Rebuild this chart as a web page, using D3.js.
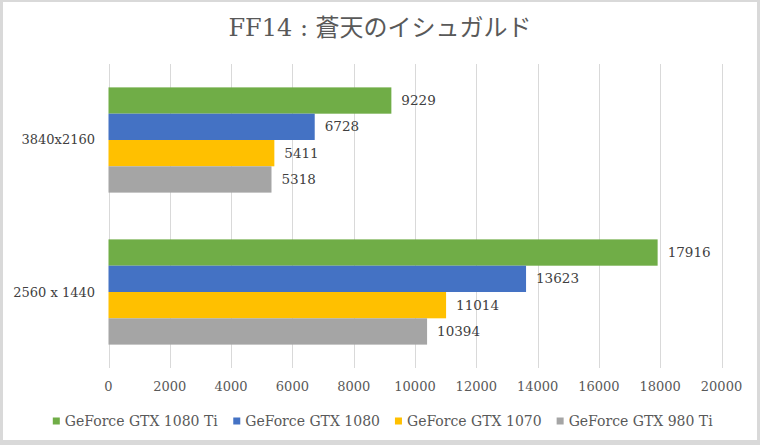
<!DOCTYPE html>
<html><head><meta charset="utf-8">
<script src="https://cdn.jsdelivr.net/npm/d3@7"></script>
<style>
html,body{margin:0;padding:0;background:#fff;}
svg{display:block;}
</style></head>
<body><svg id="c" width="760" height="445"></svg>
<script>
const title = "FF14 : 蒼天のイシュガルド";
const categories = ["3840x2160", "2560 x 1440"];
const seriesNames = ["GeForce GTX 1080 Ti", "GeForce GTX 1080", "GeForce GTX 1070", "GeForce GTX 980 Ti"];
const seriesColors = ["#70ad47", "#4472c4", "#ffc000", "#a5a5a5"];
const gtx1080ti = [9229, 17916];
const gtx1080 = [6728, 13623];
const gtx1070 = [5411, 11014];
const gtx980ti = [5318, 10394];
const xTicks = [0, 2000, 4000, 6000, 8000, 10000, 12000, 14000, 16000, 18000, 20000];

const seriesValues = [gtx1080ti, gtx1080, gtx1070, gtx980ti];
const font = "'DejaVu Serif', 'Noto Sans CJK JP', serif";
const svg = d3.select("#c");
const W = 760, H = 445;

// frame
svg.append("rect").attr("width", W).attr("height", H).attr("fill", "#d9d9d9");
svg.append("rect").attr("x", 3).attr("y", 2).attr("width", 754).attr("height", 438).attr("fill", "#fff");

const m = {left: 108.5, right: 721.5, top: 64, bottom: 368};
const x = d3.scaleLinear().domain([0, 20000]).range([m.left, m.right]);
const y0 = d3.scaleBand().domain(categories).range([m.top, m.bottom]).paddingInner(0.3077).paddingOuter(0.1538);
const y1 = d3.scaleBand().domain(seriesNames).range([0, y0.bandwidth()]);

// gridlines
svg.append("g").selectAll("line").data(xTicks).join("line")
  .attr("x1", d => Math.round(x(d)) + 0.5).attr("x2", d => Math.round(x(d)) + 0.5)
  .attr("y1", m.top).attr("y2", m.bottom)
  .attr("stroke", "#d9d9d9").attr("stroke-width", 1);

// tick labels
svg.append("g").selectAll("text").data(xTicks).join("text")
  .attr("x", d => x(d)).attr("y", 387)
  .attr("text-anchor", "middle").attr("dominant-baseline", "middle")
  .attr("font-family", font).attr("font-size", 13).attr("fill", "#595959")
  .text(d => d);

// bars
const rows = [];
categories.forEach((c, ci) => seriesNames.forEach((s, si) => rows.push({c, s, si, v: seriesValues[si][ci]})));
svg.append("g").selectAll("rect").data(rows).join("rect")
  .attr("x", x(0)).attr("y", d => y0(d.c) + y1(d.s))
  .attr("width", d => x(d.v) - x(0)).attr("height", y1.bandwidth())
  .attr("fill", d => seriesColors[d.si]);

// value labels
svg.append("g").selectAll("text").data(rows).join("text")
  .attr("x", d => x(d.v) + 10).attr("y", d => y0(d.c) + y1(d.s) + y1.bandwidth() / 2 + 1)
  .attr("dominant-baseline", "middle")
  .attr("font-family", font).attr("font-size", 13.5).attr("fill", "#404040")
  .text(d => d.v);

// category labels
svg.append("g").selectAll("text").data(categories).join("text")
  .attr("x", 95).attr("y", d => y0(d) + y0.bandwidth() / 2 + 1)
  .attr("text-anchor", "end").attr("dominant-baseline", "middle")
  .attr("font-family", font).attr("font-size", 13).attr("fill", "#404040")
  .text(d => d);

// title
svg.append("text").attr("x", 380).attr("y", 29)
  .attr("text-anchor", "middle").attr("dominant-baseline", "middle")
  .attr("font-family", font).attr("font-size", 24).attr("fill", "#595959")
  .text(title);

// legend
const lg = svg.append("g");
const items = lg.selectAll("g").data(seriesNames).join("g");
items.append("rect").attr("width", 7).attr("height", 7).attr("y", -3.5)
  .attr("fill", (d, i) => seriesColors[i]);
items.append("text").attr("x", 12).attr("y", 1)
  .attr("dominant-baseline", "middle")
  .attr("font-family", font).attr("font-size", 14).attr("fill", "#595959")
  .text(d => d);
let pos = 0; const offs = [];
items.each(function() { offs.push(pos); pos += this.getBBox().width + 15; });
const total = pos - 15;
const startX = 383 - total / 2;
items.attr("transform", (d, i) => `translate(${startX + offs[i]},421)`);
</script></body></html>
